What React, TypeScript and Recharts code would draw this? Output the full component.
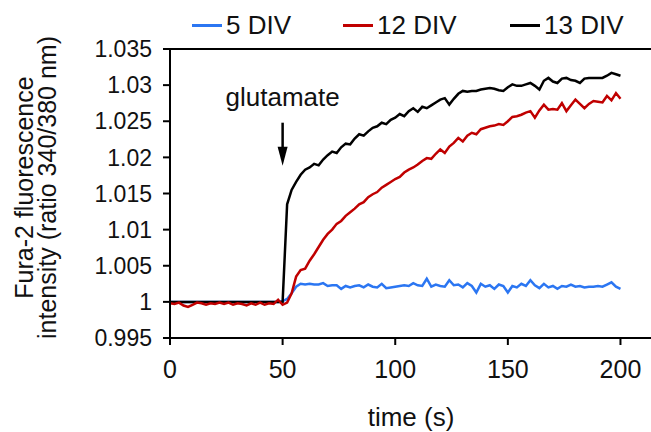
import {
  LineChart,
  Line,
  XAxis,
  YAxis,
  ReferenceLine,
  ReferenceDot,
  Label,
} from "recharts";

// time in seconds
const time = [
  0, 2, 4, 6, 8, 10, 12, 14, 16, 18,
  20, 22, 24, 26, 28, 30, 32, 34, 36, 38,
  40, 42, 44, 46, 48, 50, 52, 54, 56, 58,
  60, 62, 64, 66, 68, 70, 72, 74, 76, 78,
  80, 82, 84, 86, 88, 90, 92, 94, 96, 98,
  100, 102, 104, 106, 108, 110, 112, 114, 116, 118,
  120, 122, 124, 126, 128, 130, 132, 134, 136, 138,
  140, 142, 144, 146, 148, 150, 152, 154, 156, 158,
  160, 162, 164, 166, 168, 170, 172, 174, 176, 178,
  180, 182, 184, 186, 188, 190, 192, 194, 196, 198,
  200,
];

const div5 = [
  1, 1, 1, 1, 1, 1, 1, 1, 1, 1,
  1, 1, 1, 1, 1, 1, 1, 1, 1, 1,
  1, 1, 1, 1, 1, 1.0001, 1.0004, 1.0012, 1.0021, 1.0025,
  1.0024, 1.0025, 1.0024, 1.0024, 1.0026, 1.0022, 1.0023, 1.0023, 1.0018, 1.0022,
  1.002, 1.0022, 1.0023, 1.002, 1.0024, 1.0021, 1.002, 1.0025, 1.0019, 1.002,
  1.0021, 1.0022, 1.0023, 1.0022, 1.0026, 1.0023, 1.0022, 1.0032, 1.0021, 1.0024,
  1.0022, 1.0021, 1.003, 1.0023, 1.0024, 1.002, 1.0026, 1.0022, 1.0013, 1.0025,
  1.0021, 1.0023, 1.0018, 1.0024, 1.0022, 1.0013, 1.0022, 1.002, 1.0025, 1.0022,
  1.003, 1.0023, 1.0019, 1.0025, 1.002, 1.0022, 1.0018, 1.0022, 1.0021, 1.0024,
  1.0021, 1.0022, 1.002, 1.0021, 1.0021, 1.0022, 1.0021, 1.0024, 1.0027, 1.0021,
  1.0018,
];

const div12 = [
  0.9998, 0.9997, 0.9999, 0.9995, 0.9993, 0.9996, 0.9999, 0.9998, 0.9996, 0.9998,
  0.9997, 0.9999, 0.9997, 0.9999, 0.9996, 0.9998, 0.9997, 0.9995, 0.9998, 0.9996,
  0.9999, 0.9996, 0.9998, 0.9997, 1.0003, 0.9996, 0.9999, 1.0012, 1.0035, 1.0044,
  1.0046, 1.0057, 1.0066, 1.0076, 1.0086, 1.0094, 1.01, 1.0108, 1.0112, 1.0119,
  1.0124, 1.0129, 1.0135, 1.0138, 1.0145, 1.0149, 1.0152, 1.0158, 1.0162, 1.0166,
  1.017, 1.0173, 1.0179, 1.0183, 1.0186, 1.019, 1.0195, 1.0199, 1.0198, 1.0205,
  1.0211, 1.0206, 1.0215, 1.022, 1.0227, 1.0222, 1.023, 1.0234, 1.0232, 1.0239,
  1.0241, 1.0243, 1.0244, 1.0246, 1.0245, 1.025, 1.0256, 1.0257, 1.0259, 1.0262,
  1.0264, 1.0255, 1.0265, 1.0273, 1.0266, 1.0267, 1.0266, 1.0275, 1.0264, 1.0272,
  1.028, 1.0274, 1.0268, 1.0274, 1.0278, 1.0277, 1.0276, 1.0285, 1.0279, 1.0289,
  1.0281,
];

const div13 = [
  1, 1, 1, 1, 1, 1, 1, 1, 1, 1,
  1, 1, 1, 1, 1, 1, 1, 1, 1, 1,
  1, 1, 1, 1, 1, 1, 1.0135, 1.0155, 1.0166, 1.0176,
  1.0183, 1.0186, 1.0191, 1.0189, 1.0197, 1.0203, 1.0208, 1.0206, 1.0214, 1.0219,
  1.0218, 1.0226, 1.0232, 1.023, 1.0236, 1.0241, 1.0243, 1.0248, 1.0246, 1.0252,
  1.0255, 1.026, 1.0257, 1.0264, 1.0268, 1.0263, 1.027, 1.0268, 1.0272, 1.0276,
  1.028, 1.0282, 1.0273, 1.0281, 1.0288, 1.0292, 1.0291, 1.0292, 1.0292, 1.0294,
  1.0295, 1.0296, 1.0295, 1.0293, 1.0292, 1.0297, 1.0301, 1.0299, 1.0299, 1.0301,
  1.0303, 1.0299, 1.0294, 1.0306, 1.031, 1.0305, 1.0303, 1.0309, 1.031, 1.0307,
  1.0306, 1.0303, 1.0309, 1.031, 1.031, 1.031, 1.031, 1.0313, 1.0317, 1.0315,
  1.0313,
];

const yTicks = [0.995, 1, 1.005, 1.01, 1.015, 1.02, 1.025, 1.03, 1.035];
const xTicks = [0, 50, 100, 150, 200];

// glutamate added at t = 50 s
const glutamateTime = 50;
const glutamateArrowTop = 1.0248;

const series = [
  { key: "d5", name: "5 DIV", color: "#2b76f2" },
  { key: "d12", name: "12 DIV", color: "#c00000" },
  { key: "d13", name: "13 DIV", color: "#000000" },
];
const legendLeft = [192, 343, 510];
const drawOrder = ["d5", "d13", "d12"];

const data = time.map((t, i) => ({ t, d5: div5[i], d12: div12[i], d13: div13[i] }));

const FONT = "'Liberation Sans', Arial, sans-serif";

function YTitle(props: any) {
  const vb = props.viewBox || { x: 0, y: 0, width: 0, height: 0 };
  const cy = vb.y + vb.height / 2 - 6;
  return (
    <g fontFamily={FONT} fontSize={25} fill="#111">
      <text x={33} y={cy} textAnchor="middle" transform={`rotate(-90, 33, ${cy})`}>
        Fura-2 fluorescence
      </text>
      <text x={56} y={cy} textAnchor="middle" transform={`rotate(-90, 56, ${cy})`}>
        intensity (ratio 340/380 nm)
      </text>
    </g>
  );
}

function GlutamateArrow(props: any) {
  const { cx, cy } = props;
  return (
    <g>
      <text x={cx} y={cy - 17} textAnchor="middle" fontFamily={FONT} fontSize={26} fill="#111">
        glutamate
      </text>
      <line x1={cx} y1={cy} x2={cx} y2={cy + 28} stroke="#000" strokeWidth={2.5} />
      <polygon points={`${cx - 5},${cy + 24} ${cx + 5},${cy + 24} ${cx},${cy + 43}`} fill="#000" />
    </g>
  );
}

export default function App() {
  return (
    <div
      style={{
        position: "absolute",
        left: 0,
        top: 0,
        width: 651,
        height: 432,
        overflow: "hidden",
        background: "#fff",
        fontFamily: FONT,
      }}
    >
      {series.map((s, i) => (
        <div
          key={s.key}
          style={{
            position: "absolute",
            left: legendLeft[i],
            top: 8,
            height: 34,
            display: "flex",
            alignItems: "center",
            fontSize: 26,
            color: "#111",
            whiteSpace: "nowrap",
          }}
        >
          <span style={{ display: "inline-block", width: 30, height: 3, background: s.color, marginRight: 4 }} />
          {s.name}
        </div>
      ))}
      <LineChart width={700} height={432} data={data} margin={{ top: 49, right: 48, left: 0, bottom: 0 }}>
        <XAxis
          dataKey="t"
          type="number"
          domain={[0, 214]}
          ticks={xTicks}
          allowDataOverflow
          height={94}
          tickSize={7}
          tickMargin={15}
          axisLine={{ stroke: "#000", strokeWidth: 2 }}
          tickLine={{ stroke: "#000", strokeWidth: 2 }}
          tick={{ fontSize: 25, fill: "#111", fontFamily: FONT }}
        >
          <Label value="time (s)" position="insideBottom" offset={6} fontSize={26} fill="#111" fontFamily={FONT} />
        </XAxis>
        <YAxis
          type="number"
          domain={[0.995, 1.035]}
          ticks={yTicks}
          width={170}
          tickSize={7}
          tickMargin={11}
          axisLine={{ stroke: "#000", strokeWidth: 2 }}
          tickLine={{ stroke: "#000", strokeWidth: 2 }}
          tick={{ fontSize: 23, fill: "#111", fontFamily: FONT }}
        >
          <Label content={YTitle} />
        </YAxis>
        <ReferenceLine y={1.035} stroke="#000" strokeWidth={2} />
        {drawOrder.map((k) => {
          const s = series.find((x) => x.key === k)!;
          return (
            <Line
              key={k}
              type="linear"
              dataKey={k}
              name={s.name}
              stroke={s.color}
              strokeWidth={2.5}
              dot={false}
              isAnimationActive={false}
            />
          );
        })}
        <ReferenceDot x={glutamateTime} y={glutamateArrowTop} r={0} shape={GlutamateArrow} />
      </LineChart>
    </div>
  );
}
